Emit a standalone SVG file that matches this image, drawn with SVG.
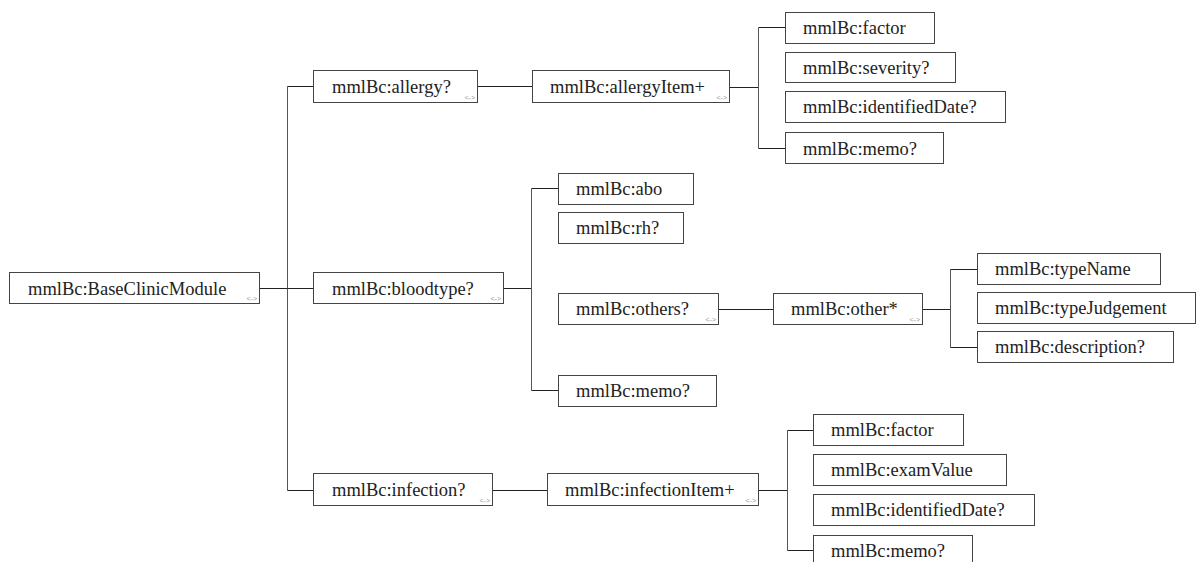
<svg xmlns="http://www.w3.org/2000/svg" width="1196" height="562" viewBox="0 0 1196 562">
<style>
.box{fill:#fff;stroke:#444;stroke-width:1}
.t{font-family:'Liberation Serif','Times New Roman',serif;font-size:18.5px;fill:#222}
.ic{font-family:'Liberation Sans',Arial,sans-serif;font-size:7px;fill:#999;text-anchor:end}
.ln{fill:none;stroke:#222;stroke-width:1}
.vl{fill:none;stroke:#555;stroke-width:1}
</style>
<rect width="1196" height="562" fill="#fff"/>
<g id="connectors">
<path class="ln" d="M259.5 288.5H287.5"/>
<path class="vl" d="M287.5 86.5V490.5"/>
<path class="ln" d="M287.5 86.5H313.5M287.5 288.5H313.5M287.5 490.5H313.5"/>
<path class="ln" d="M477.5 86.5H533.5"/>
<path class="ln" d="M729.5 87.5H758.5"/>
<path class="vl" d="M758.5 27.5V148.5"/>
<path class="ln" d="M758.5 27.5H785.5M758.5 148.5H785.5"/>
<path class="ln" d="M503.5 288.5H531.5"/>
<path class="vl" d="M531.5 188.5V390.5"/>
<path class="ln" d="M531.5 188.5H558.5M531.5 390.5H558.5"/>
<path class="ln" d="M718.5 309.5H773.5"/>
<path class="ln" d="M922.5 309.5H950.5"/>
<path class="vl" d="M950.5 269.5V347.5"/>
<path class="ln" d="M950.5 269.5H977.5M950.5 347.5H977.5"/>
<path class="ln" d="M492.5 490.5H547.5"/>
<path class="ln" d="M758.5 490.5H787.5"/>
<path class="vl" d="M787.5 430.5V550.5"/>
<path class="ln" d="M787.5 430.5H813.5M787.5 550.5H813.5"/>
</g>
<g id="root"><rect class="box" x="9.5" y="272.5" width="250" height="31"/><text class="t" x="28" y="295">mmlBc:BaseClinicModule</text><text class="ic" x="257" y="301">&lt;-&gt;</text></g>
<g id="allergy"><rect class="box" x="313.5" y="70.5" width="164" height="32"/><text class="t" x="332" y="93">mmlBc:allergy?</text><text class="ic" x="475" y="100">&lt;-&gt;</text></g>
<g id="allergyItem"><rect class="box" x="532.5" y="70.5" width="197" height="32"/><text class="t" x="550" y="93">mmlBc:allergyItem+</text><text class="ic" x="727" y="100">&lt;-&gt;</text></g>
<g id="a-factor"><rect class="box" x="785.5" y="12.5" width="149" height="31"/><text class="t" x="803" y="34">mmlBc:factor</text></g>
<g id="a-severity"><rect class="box" x="785.5" y="52.5" width="170" height="30"/><text class="t" x="803" y="74">mmlBc:severity?</text></g>
<g id="a-identifiedDate"><rect class="box" x="785.5" y="91.5" width="220" height="31"/><text class="t" x="803" y="113">mmlBc:identifiedDate?</text></g>
<g id="a-memo"><rect class="box" x="785.5" y="132.5" width="158" height="31"/><text class="t" x="803" y="155">mmlBc:memo?</text></g>
<g id="bloodtype"><rect class="box" x="313.5" y="272.5" width="190" height="31"/><text class="t" x="332" y="295">mmlBc:bloodtype?</text><text class="ic" x="501" y="301">&lt;-&gt;</text></g>
<g id="abo"><rect class="box" x="558.5" y="173.5" width="135" height="31"/><text class="t" x="576" y="195">mmlBc:abo</text></g>
<g id="rh"><rect class="box" x="558.5" y="212.5" width="125" height="31"/><text class="t" x="576" y="234">mmlBc:rh?</text></g>
<g id="others"><rect class="box" x="558.5" y="293.5" width="160" height="31"/><text class="t" x="576" y="315">mmlBc:others?</text><text class="ic" x="716" y="322">&lt;-&gt;</text></g>
<g id="b-memo"><rect class="box" x="558.5" y="375.5" width="158" height="31"/><text class="t" x="576" y="397">mmlBc:memo?</text></g>
<g id="other"><rect class="box" x="773.5" y="293.5" width="149" height="31"/><text class="t" x="791" y="315">mmlBc:other*</text><text class="ic" x="920" y="322">&lt;-&gt;</text></g>
<g id="typeName"><rect class="box" x="977.5" y="253.5" width="183" height="31"/><text class="t" x="995" y="275">mmlBc:typeName</text></g>
<g id="typeJudgement"><rect class="box" x="977.5" y="292.5" width="218" height="31"/><text class="t" x="995" y="314">mmlBc:typeJudgement</text></g>
<g id="description"><rect class="box" x="977.5" y="331.5" width="196" height="31"/><text class="t" x="995" y="353">mmlBc:description?</text></g>
<g id="infection"><rect class="box" x="313.5" y="473.5" width="179" height="32"/><text class="t" x="332" y="496">mmlBc:infection?</text><text class="ic" x="490" y="503">&lt;-&gt;</text></g>
<g id="infectionItem"><rect class="box" x="547.5" y="473.5" width="211" height="32"/><text class="t" x="565" y="496">mmlBc:infectionItem+</text><text class="ic" x="756" y="503">&lt;-&gt;</text></g>
<g id="i-factor"><rect class="box" x="813.5" y="414.5" width="150" height="31"/><text class="t" x="831" y="436">mmlBc:factor</text></g>
<g id="i-examValue"><rect class="box" x="813.5" y="454.5" width="193" height="31"/><text class="t" x="831" y="476">mmlBc:examValue</text></g>
<g id="i-identifiedDate"><rect class="box" x="813.5" y="494.5" width="221" height="31"/><text class="t" x="831" y="516">mmlBc:identifiedDate?</text></g>
<g id="i-memo"><rect class="box" x="813.5" y="535.5" width="159" height="31"/><text class="t" x="831" y="557">mmlBc:memo?</text></g>
</svg>
